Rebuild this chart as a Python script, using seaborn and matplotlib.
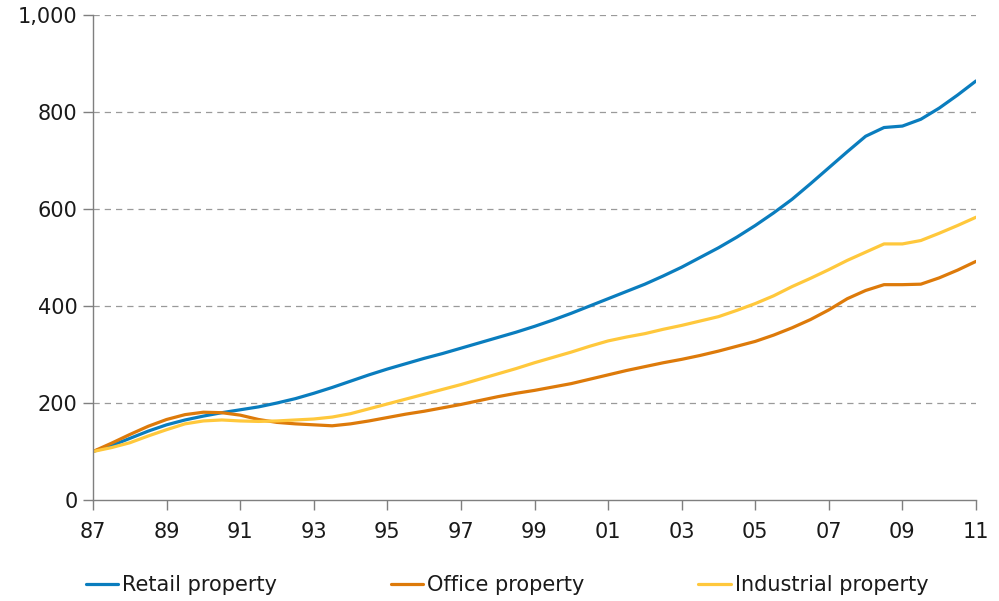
import numpy as np
import pandas as pd
import matplotlib
matplotlib.use("Agg")
import matplotlib.pyplot as plt
import seaborn as sns

years = [1987.0, 1987.5, 1988.0, 1988.5, 1989.0, 1989.5, 1990.0, 1990.5, 1991.0, 1991.5,
         1992.0, 1992.5, 1993.0, 1993.5, 1994.0, 1994.5, 1995.0, 1995.5, 1996.0, 1996.5,
         1997.0, 1997.5, 1998.0, 1998.5, 1999.0, 1999.5, 2000.0, 2000.5, 2001.0, 2001.5,
         2002.0, 2002.5, 2003.0, 2003.5, 2004.0, 2004.5, 2005.0, 2005.5, 2006.0, 2006.5,
         2007.0, 2007.5, 2008.0, 2008.5, 2009.0, 2009.5, 2010.0, 2010.5, 2011.0]

retail = [100, 112, 127, 142, 155, 165, 173, 180, 186, 192,
          200, 209, 220, 232, 245, 258, 270, 281, 292, 302,
          313, 324, 335, 346, 358, 371, 385, 400, 415, 430,
          445, 462, 480, 500, 520, 542, 566, 592, 620, 652,
          685, 718, 750, 768, 771, 785, 808, 835, 864]

office = [100, 117, 135, 152, 166, 176, 181, 180, 175, 166,
          160, 157, 155, 153, 157, 163, 170, 177, 183, 190,
          197, 205, 213, 220, 226, 233, 240, 249, 258, 267,
          275, 283, 290, 298, 307, 317, 327, 340, 355, 372,
          392, 415, 432, 444, 444, 445, 458, 474, 492]

industrial = [100, 108, 118, 132, 145, 157, 163, 165, 163, 162,
              163, 165, 167, 171, 178, 188, 198, 208, 218, 228,
              238, 249, 260, 271, 283, 294, 305, 317, 328, 336,
              343, 352, 360, 369, 378, 391, 405, 421, 440, 457,
              475, 494, 511, 528, 528, 535, 550, 566, 583]

series_names = ["Retail property", "Office property", "Industrial property"]
x_tick_years = list(range(1987, 2012, 2))
x_tick_labels = [f"{y % 100:02d}" for y in x_tick_years]
y_ticks = [0, 200, 400, 600, 800, 1000]
y_tick_labels = ["0", "200", "400", "600", "800", "1,000"]

df = pd.DataFrame({
    "year": years * 3,
    "value": retail + office + industrial,
    "series": [series_names[0]] * len(years) + [series_names[1]] * len(years) + [series_names[2]] * len(years),
})

sns.set_theme(style="white")
plt.rcParams["font.family"] = ["DejaVu Sans"]

palette = {"Retail property": "#0A7DBE", "Office property": "#DD7A0A", "Industrial property": "#FFC83C"}

fig = plt.figure(figsize=(9.99, 6.01), dpi=100)
ax = fig.add_axes([93 / 999, 101 / 601, (976 - 93) / 999, (500 - 15) / 601])

sns.lineplot(data=df, x="year", y="value", hue="series", palette=palette,
             linewidth=2.3, ax=ax, legend=True)

ax.set_xlim(1987, 2011)
ax.set_ylim(0, 1000)
ax.set_xticks(x_tick_years)
ax.set_xticklabels(x_tick_labels, fontsize=15, color="#1a1a1a")
ax.set_yticks(y_ticks)
ax.set_yticklabels(y_tick_labels, fontsize=15, color="#1a1a1a")
ax.set_xlabel("")
ax.set_ylabel("")

for v in y_ticks[1:]:
    ax.axhline(v, color="#9a9a9a", linestyle=(0, (5, 4)), linewidth=0.9, zorder=0)

for s in ["top", "right"]:
    ax.spines[s].set_visible(False)
for s in ["left", "bottom"]:
    ax.spines[s].set_color("#7f7f7f")
    ax.spines[s].set_linewidth(1.0)

ax.tick_params(axis="both", which="major", direction="out", length=7, width=1.0,
               color="#7f7f7f", bottom=True, left=True)
ax.tick_params(axis="x", pad=9)
ax.tick_params(axis="y", pad=4)

handles, labels = ax.get_legend_handles_labels()
ax.legend_.remove()
leg = fig.legend(handles, labels, loc="center left", bbox_to_anchor=(86 / 999, 1 - 585 / 601),
                 ncol=3, frameon=False, fontsize=15, handlelength=1.55, handletextpad=0.2,
                 columnspacing=5.45, borderaxespad=0, borderpad=0)
for t in leg.get_texts():
    t.set_color("#1a1a1a")

fig.savefig("out.png", dpi=100)
